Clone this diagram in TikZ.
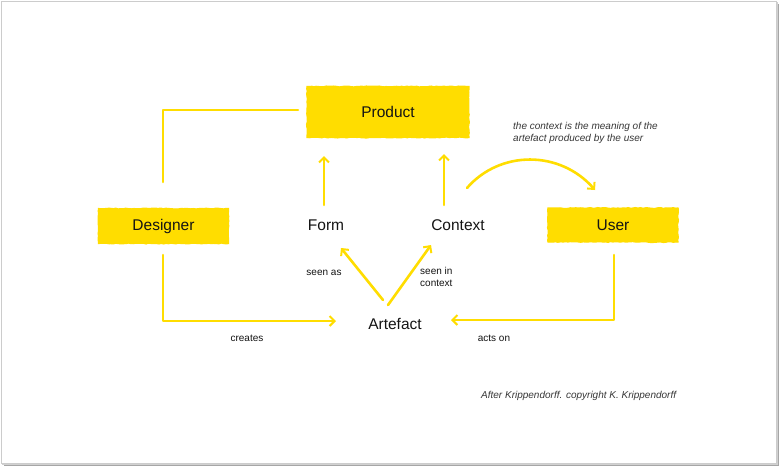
\documentclass[tikz,border=0pt]{standalone}
\usepackage{fontspec}
\setmainfont{Liberation Sans}
\usetikzlibrary{arrows.meta,decorations.pathmorphing,calc}
\definecolor{yel}{RGB}{255,221,0}
\definecolor{txt}{RGB}{20,20,20}
\tikzset{
  box/.style={fill=yel, draw=yel, line width=1.2pt, decorate, decoration={random steps,segment length=2.5pt,amplitude=0.45pt}, inner sep=0pt, text=txt, font=\fontsize{15.5}{18}\selectfont},
  word/.style={text=txt, font=\fontsize{15.5}{18}\selectfont, inner sep=1pt},
  small/.style={text=txt, font=\fontsize{10}{12.5}\selectfont, align=left, inner sep=0pt},
  note/.style={text=txt!85, font=\fontsize{10}{12.5}\selectfont\itshape, align=left, inner sep=0pt},
  conn/.style={draw=yel, line width=2.6pt, line cap=round, line join=round},
  arr/.style={conn, -{Straight Barb[length=5pt,width=10pt,line width=2pt]}}
}
\begin{document}
\begin{tikzpicture}[x=1pt,y=-1pt]
\useasboundingbox (0,0) rectangle (784,467);
\fill[white] (0,0) rectangle (784,467);
% frame with shadow
\fill[black!35] (4,4) rectangle (779,466);
\fill[black!18] (2,2) rectangle (778,465);
\filldraw[fill=white, draw=black!20, line width=0.6pt] (1,1) rectangle (776,463);

% nodes
\node[box, minimum width=162pt, minimum height=51pt] (product) at (388,112) {Product};
\node[box, minimum width=130pt, minimum height=35pt] (designer) at (163.5,226) {Designer};
\node[box, minimum width=130pt, minimum height=34pt] (user) at (613,225) {User};
\node[word] (form) at (326,225) {Form};
\node[word] (context) at (458,225) {Context};
\node[word] (artefact) at (395,324) {Artefact};

% anchor coordinates
\coordinate (fbase) at (324,205);
\coordinate (ftip) at (324,156);
\coordinate (cbase) at (444,205);
\coordinate (ctip) at (444,154);
\coordinate (aF) at (383,300);
\coordinate (aFtip) at (341,248);
\coordinate (aC) at (388,305);
\coordinate (aCtip) at (431,245);
\coordinate (dtop) at (163,182);
\coordinate (pleft) at (298,110);
\coordinate (dbot) at (163,255);
\coordinate (atipL) at (336,321);
\coordinate (ubot) at (614,255);
\coordinate (atipR) at (451,320);
\coordinate (curvS) at (467,188);
\coordinate (curvE) at (595,190);

% connectors
\draw[conn] (pleft) -| (dtop);
\draw[arr] (fbase) -- (ftip);
\draw[arr] (cbase) -- (ctip);
\draw[arr] (aF) -- (aFtip);
\draw[arr] (aC) -- (aCtip);
\draw[arr] (dbot) |- (atipL);
\draw[arr] (ubot) |- (atipR);
\draw[arr] (curvS) .. controls (500,150) and (560,150) .. (curvE);

% labels
\node[small] (seenas) at (324,273) {seen as};
\node[small, anchor=west] (seenin) at (420,277) {seen in\\context};
\node[small] (creates) at (247,338) {creates};
\node[small] (actson) at (494,338) {acts on};
\node[note, anchor=west] (meaning) at (513,133) {the context is the meaning of the\\artefact produced by the user};
\node[note, anchor=west] (credit) at (481,396) {After Krippendorff. copyright K. Krippendorff};
\end{tikzpicture}
\end{document}
